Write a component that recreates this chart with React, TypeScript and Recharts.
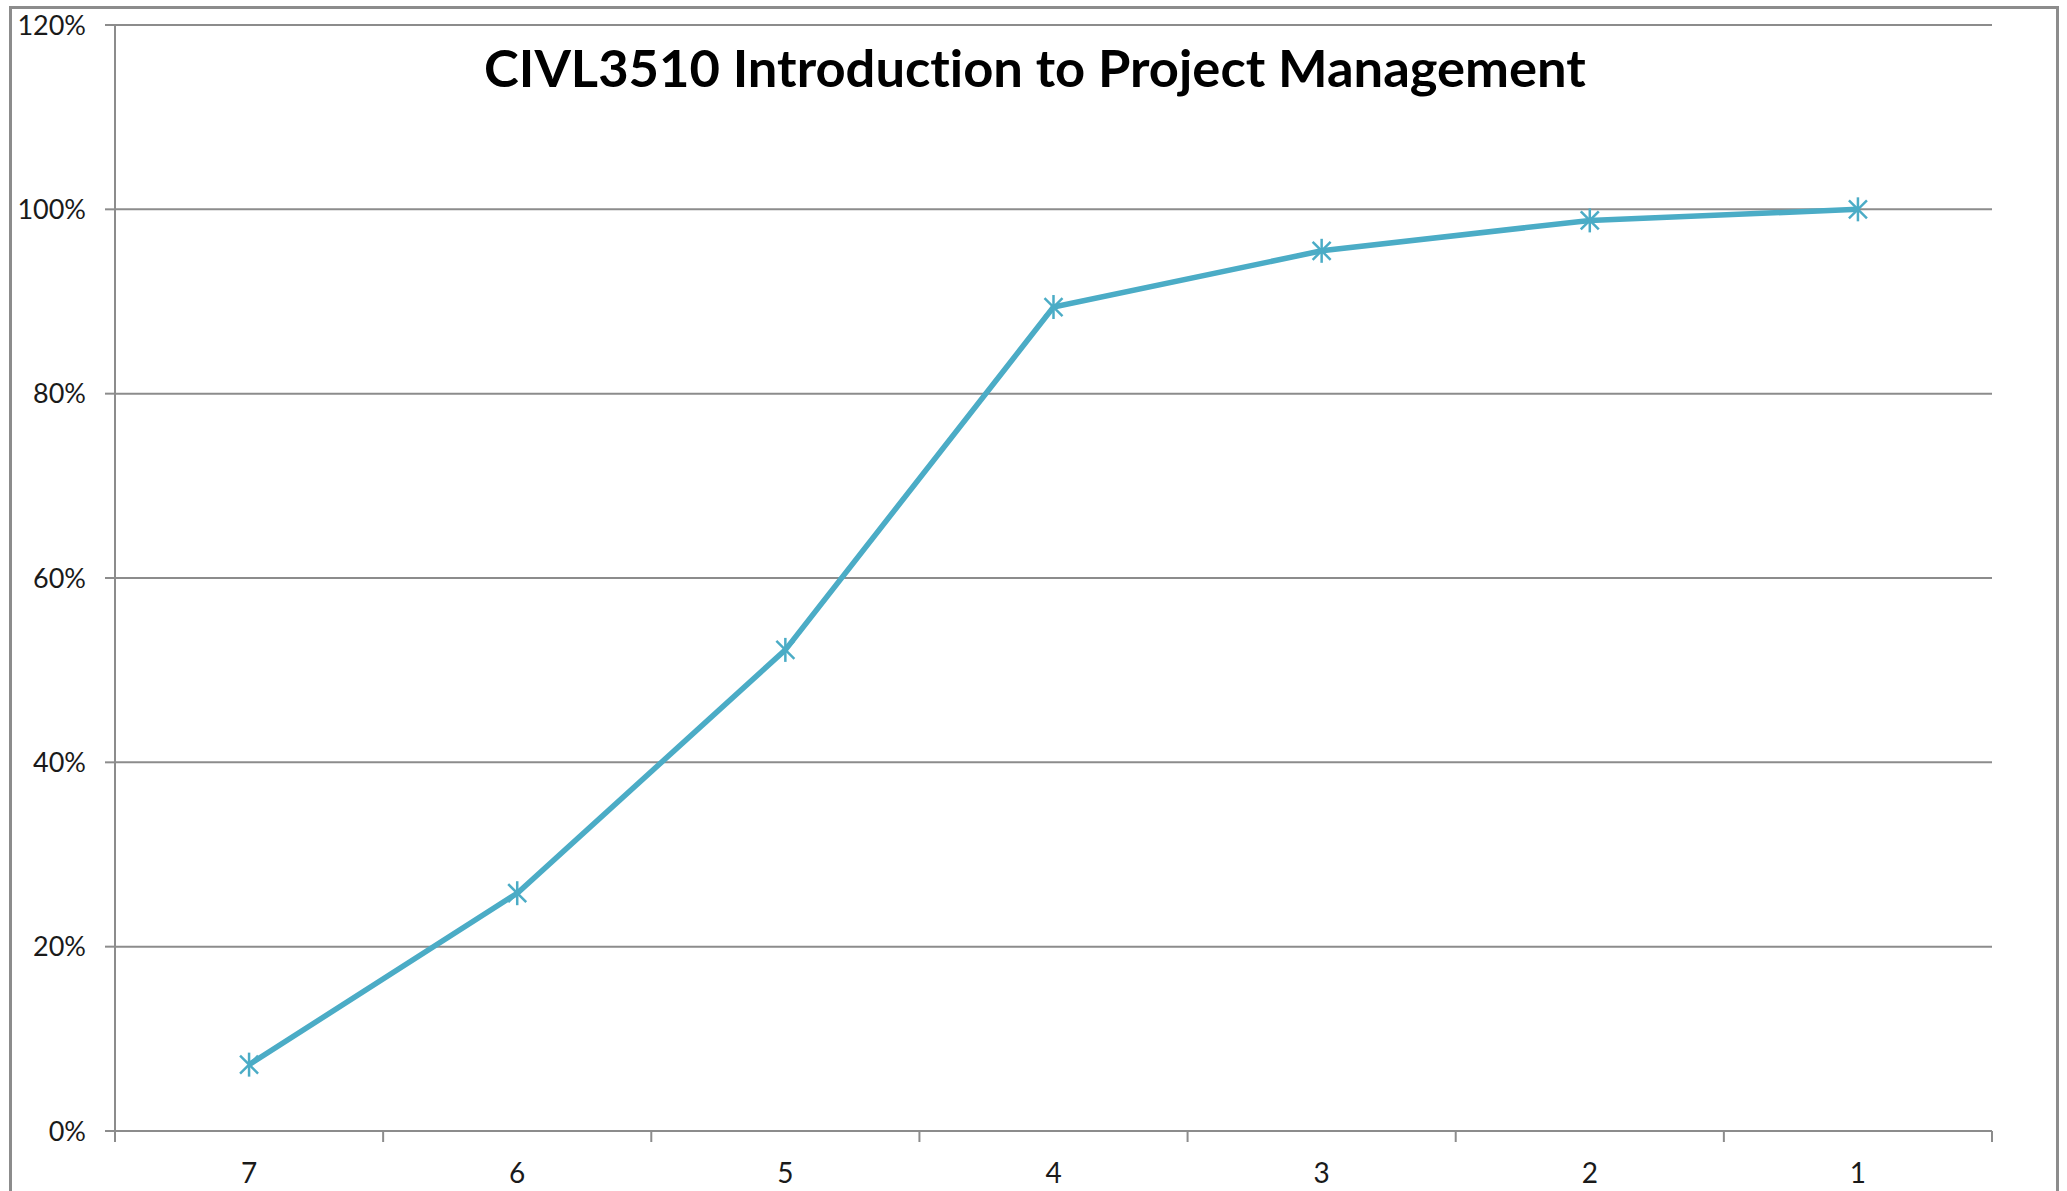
import React from "react";
import { CartesianGrid, Line, LineChart, XAxis, YAxis } from "recharts";

// Cumulative share by grade band
const grades = ["7", "6", "5", "4", "3", "2", "1"];
const cumulativePct = [7.2, 25.8, 52.2, 89.4, 95.5, 98.8, 100];
const yTicks = [0, 20, 40, 60, 80, 100, 120];
const title = "CIVL3510 Introduction to Project Management";

const data = grades.map((g, i) => ({ grade: g, pct: cumulativePct[i] }));

const W = 2067;
const H = 1191;
const LEFT = 115;
const RIGHT = 75;
const TOP = 25;
const BOTTOM = 60;
const AXIS_GREY = "#8c8c8c";
const LINE = "#4BACC6";
const FONT = "Lato, 'Open Sans', sans-serif";

const step = (W - LEFT - RIGHT) / grades.length;

function GradeTick(props: any) {
  const { x, y, payload, index } = props;
  return (
    <g>
      <line x1={x - step / 2} y1={y} x2={x - step / 2} y2={y + 11} stroke={AXIS_GREY} strokeWidth={2} />
      {index === grades.length - 1 && (
        <line x1={x + step / 2} y1={y} x2={x + step / 2} y2={y + 11} stroke={AXIS_GREY} strokeWidth={2} />
      )}
      <text x={x} y={y + 41} textAnchor="middle" dominantBaseline="central" fontSize={28} fill="#1a1a1a" fontFamily={FONT}>
        {payload.value}
      </text>
    </g>
  );
}

// Excel-style "star" marker: an X with a vertical stroke through it
function StarDot(props: any) {
  const { cx, cy } = props;
  if (cx == null || cy == null) return null;
  const r = 12;
  const d = r * 0.75;
  return (
    <g stroke={LINE} strokeWidth={2.5} fill="none">
      <line x1={cx - d} y1={cy - d} x2={cx + d} y2={cy + d} />
      <line x1={cx - d} y1={cy + d} x2={cx + d} y2={cy - d} />
      <line x1={cx} y1={cy - r} x2={cx} y2={cy + r} />
    </g>
  );
}

export default function App() {
  return (
    <div style={{ position: "absolute", left: 0, top: 0, width: W, height: H, background: "#fff", overflow: "hidden" }}>
      <div
        style={{
          position: "absolute",
          left: 9,
          top: 6,
          width: 2059 - 9,
          height: H + 20,
          border: `3px solid ${AXIS_GREY}`,
          boxSizing: "border-box",
        }}
      />
      <LineChart width={W} height={H} data={data} margin={{ top: TOP, right: RIGHT, bottom: 0, left: 0 }}>
        <CartesianGrid vertical={false} stroke={AXIS_GREY} strokeWidth={2} />
        <XAxis
          dataKey="grade"
          height={BOTTOM}
          padding={{ left: step / 2, right: step / 2 }}
          stroke={AXIS_GREY}
          strokeWidth={2}
          tickLine={false}
          tickSize={0}
          tickMargin={0}
          interval={0}
          tick={<GradeTick />}
        />
        <YAxis
          width={LEFT}
          domain={[0, 120]}
          ticks={yTicks}
          interval={0}
          stroke={AXIS_GREY}
          strokeWidth={2}
          tickSize={10}
          tickMargin={19}
          tickFormatter={(v: number) => `${v}%`}
          tick={{ fontSize: 27, fill: "#1a1a1a", fontFamily: FONT }}
        />
        <Line
          dataKey="pct"
          type="linear"
          stroke={LINE}
          strokeWidth={5.5}
          dot={<StarDot />}
          activeDot={false}
          isAnimationActive={false}
        />
      </LineChart>
      <div
        style={{
          position: "absolute",
          left: 0,
          width: 2070,
          top: 66,
          transform: "translateY(-50%)",
          textAlign: "center",
          fontFamily: FONT,
          fontWeight: 700,
          fontSize: 52.5,
          fontVariantLigatures: "none",
          color: "#000",
          whiteSpace: "nowrap",
        }}
      >
        {title}
      </div>
    </div>
  );
}
